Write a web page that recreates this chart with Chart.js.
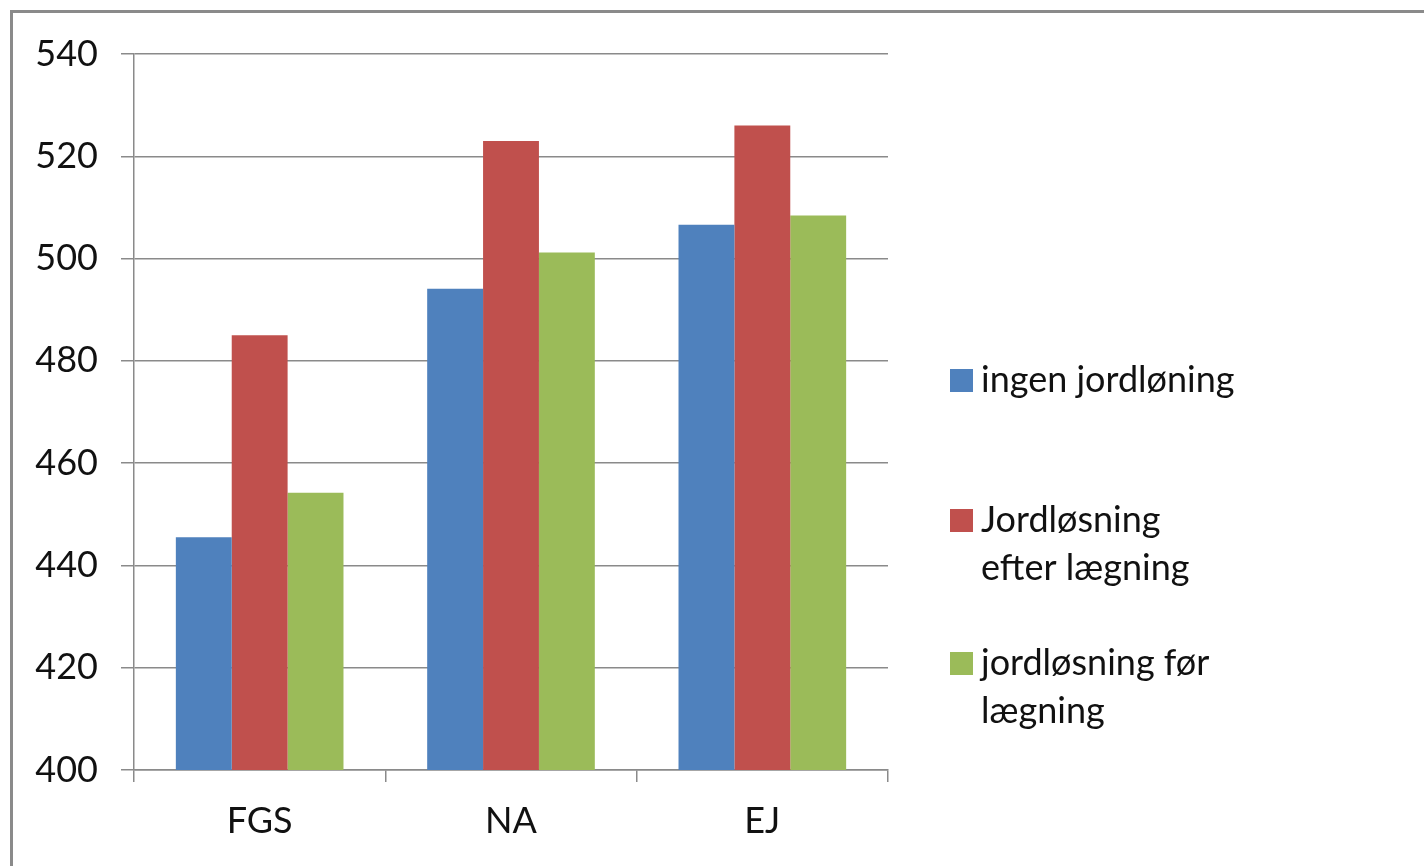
<!DOCTYPE html>
<html>
<head>
<meta charset="utf-8">
<script src="https://cdn.jsdelivr.net/npm/chart.js@4/dist/chart.umd.min.js"></script>
<style>
  html, body { margin: 0; padding: 0; background: #fff; }
  #frame {
    position: absolute; left: 10px; top: 10px; width: 1500px; height: 900px;
    border-top: 3px solid #8a8a8a; border-left: 3px solid #8a8a8a;
  }
  #wrap { position: absolute; left: 0; top: 0; width: 1424px; height: 866px; }
</style>
</head>
<body>
<div id="frame"></div>
<div id="wrap"><canvas id="chart"></canvas></div>
<script>
var categories = ['FGS', 'NA', 'EJ'];
var seriesNames = ['ingen jordløning', 'Jordløsning efter lægning', 'jordløsning før lægning'];
var legendLines = [['ingen jordløning'], ['Jordløsning', 'efter lægning'], ['jordløsning før', 'lægning']];
var ingenJordloning = [445.5, 494.1, 506.6];
var efterLaegning = [485.0, 523.0, 526.0];
var forLaegning = [454.2, 501.2, 508.4];
var yMin = 400, yMax = 540, yStep = 20;

var colors = ['#4F81BD', '#C0504D', '#9BBB59'];
var fontFamily = 'Lato, "Open Sans", sans-serif';
var gridColor = '#8a8a8a';

// legend drawn by hand so it sits where Excel put it
var legendY = [380, 520, 663];
var sideLegend = {
    id: 'sideLegend',
    afterDraw: function(chart) {
        var ctx = chart.ctx;
        ctx.save();
        ctx.font = '36px ' + fontFamily;
        ctx.textBaseline = 'middle';
        ctx.textAlign = 'left';
        chart.data.datasets.forEach(function(ds, i) {
            var y = legendY[i];
            ctx.fillStyle = ds.backgroundColor;
            ctx.fillRect(950, y - 11, 23, 23);
            ctx.fillStyle = '#111';
            legendLines[i].forEach(function(line, j) {
                ctx.fillText(line, 981, y + j * 48);
            });
        });
        ctx.restore();
    }
};

var ctx = document.getElementById('chart').getContext('2d');
new Chart(ctx, {
    type: 'bar',
    data: {
        labels: categories,
        datasets: [
            { label: seriesNames[0], data: ingenJordloning, backgroundColor: colors[0] },
            { label: seriesNames[1], data: efterLaegning, backgroundColor: colors[1] },
            { label: seriesNames[2], data: forLaegning, backgroundColor: colors[2] }
        ]
    },
    options: {
        responsive: true,
        maintainAspectRatio: false,
        animation: false,
        events: [],
        layout: { padding: { left: 0, top: 54, right: 536, bottom: 0 } },
        datasets: { bar: { categoryPercentage: 0.667, barPercentage: 1.0 } },
        plugins: {
            legend: { display: false },
            tooltip: { enabled: false }
        },
        scales: {
            x: {
                grid: { display: true, drawOnChartArea: false, offset: true, tickLength: 12, color: gridColor, lineWidth: 1.5 },
                border: { color: gridColor, width: 1.5 },
                ticks: { color: '#111', font: { family: fontFamily, size: 36 }, padding: 18 },
                afterFit: function(scale) { scale.height = 96; }
            },
            y: {
                min: yMin,
                max: yMax,
                grid: { color: gridColor, lineWidth: 1.5, tickLength: 13 },
                border: { color: gridColor, width: 1.5 },
                ticks: { stepSize: yStep, color: '#111', font: { family: fontFamily, size: 36 }, padding: 23 },
                afterFit: function(scale) { scale.width = 134; }
            }
        }
    },
    plugins: [sideLegend]
});
</script>
</body>
</html>
